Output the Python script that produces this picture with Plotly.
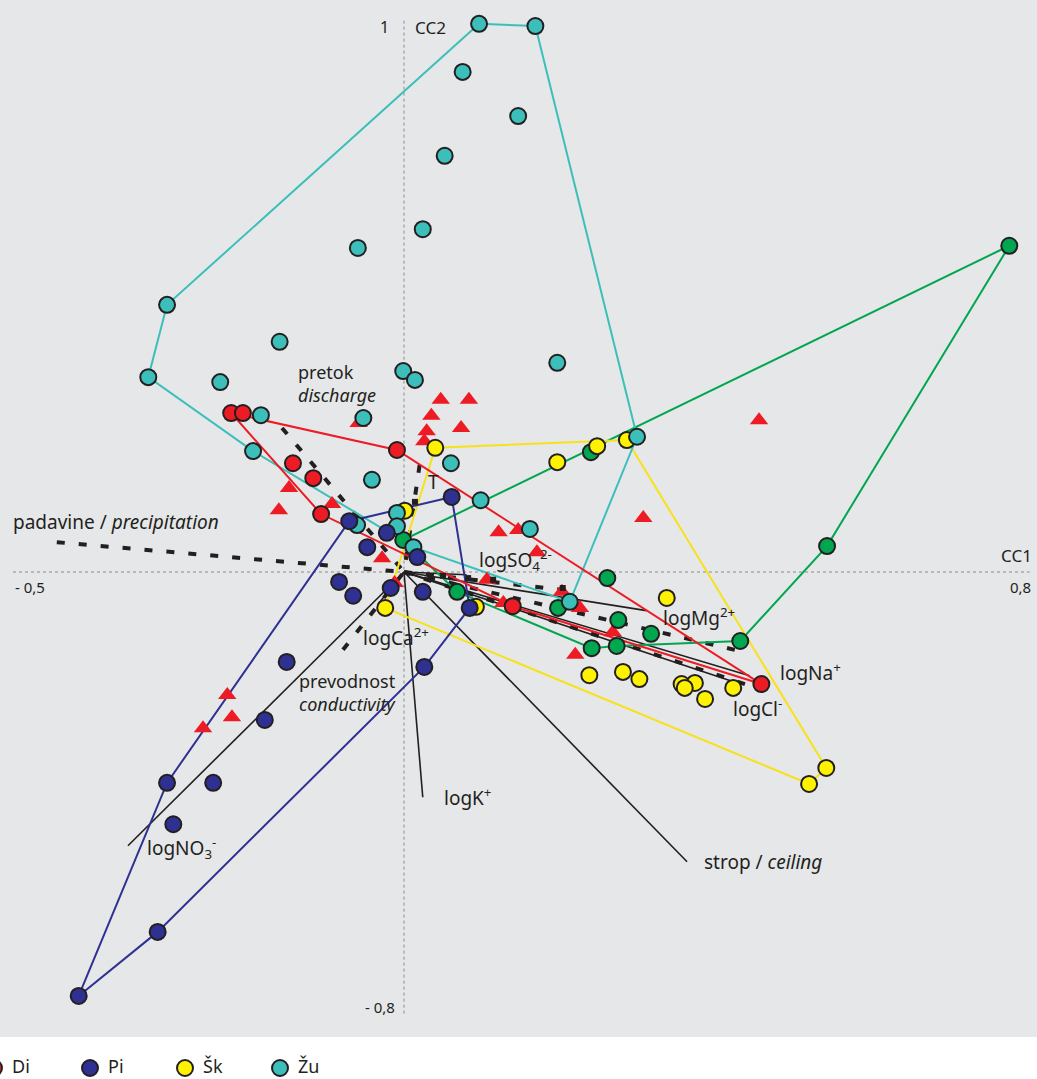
import plotly.graph_objects as go

# ---------------- data (CC1, CC2 scores) ----------------
# Di (red circles); first 5 = envelope vertices in order
di_x = [-0.221, -0.009, 0.457, 0.139, -0.106, -0.206, -0.142, -0.116]
di_y = [0.288, 0.221, -0.203, -0.062, 0.105, 0.288, 0.197, 0.170]
di_hull = [0, 1, 2, 3, 4, 0]

# Pi (dark blue circles)
pi_x = [-0.416, -0.303, -0.070, 0.061, 0.084, 0.026, -0.315, -0.083, -0.065, -0.017,
        0.024, -0.150, -0.178, -0.244, -0.295, -0.022, -0.047, 0.017]
pi_y = [-0.768, -0.382, 0.092, 0.136, -0.065, -0.172, -0.652, -0.018, -0.043, -0.029,
        -0.036, -0.163, -0.268, -0.382, -0.457, 0.071, 0.045, 0.027]
pi_hull = [0, 1, 2, 3, 4, 5, 6, 0]

# Šk (yellow circles)
sk_x = [0.040, 0.285, 0.540, 0.518, -0.024, 0.247, 0.196, 0.001, 0.092, 0.336,
        0.237, 0.280, 0.301, 0.355, 0.372, 0.359, 0.385, 0.421]
sk_y = [0.225, 0.239, -0.355, -0.384, -0.065, 0.228, 0.199, 0.111, -0.063, -0.047,
        -0.187, -0.181, -0.194, -0.203, -0.201, -0.210, -0.230, -0.210]
sk_hull = [0, 1, 2, 3, 4, 0]

# Žu (teal circles)
zu_x = [0.096, 0.168, 0.298, 0.212, 0.012, -0.193, -0.327, -0.303, 0.075, 0.146,
        0.052, 0.024, -0.059, -0.159, -0.235, -0.001, 0.014, 0.196, -0.052, -0.183,
        0.060, -0.041, 0.098, -0.009, -0.060, -0.009, 0.161]
zu_y = [0.993, 0.989, 0.245, -0.054, 0.045, 0.219, 0.353, 0.484, 0.906, 0.826,
        0.754, 0.621, 0.587, 0.417, 0.344, 0.364, 0.348, 0.379, 0.279, 0.284,
        0.197, 0.167, 0.130, 0.107, 0.085, 0.083, 0.078]
zu_hull = [0, 1, 2, 3, 4, 5, 6, 7, 0]

# green circles (group not labelled in the visible legend)
gr_x = [0.774, 0.541, 0.430, 0.272, 0.240, 0.068, -0.001, 0.239, 0.260, 0.197, 0.274, 0.316]
gr_y = [0.591, 0.047, -0.125, -0.134, -0.138, -0.036, 0.058, 0.217, -0.011, -0.065, -0.087, -0.112]
gr_hull = [0, 1, 2, 3, 4, 5, 6, 0]

# red triangles
tr_x = [0.047, 0.083, 0.035, 0.073, 0.029, 0.026, -0.058, -0.147, -0.160, -0.092,
        -0.028, 0.121, 0.146, 0.170, 0.106, 0.202, 0.225, 0.267, 0.219, 0.127,
        0.306, 0.454, -0.226, -0.220, -0.257, -0.012]
tr_y = [0.312, 0.312, 0.283, 0.261, 0.255, 0.237, 0.270, 0.152, 0.112, 0.123,
        0.025, 0.072, 0.076, 0.036, -0.014, -0.036, -0.065, -0.109, -0.150, -0.056,
        0.098, 0.275, -0.223, -0.263, -0.283, -0.020]

# small black squares
sq_x = [0.014, 0.050, 0.082, 0.114, 0.203]
sq_y = [0.127, -0.007, -0.011, -0.014, -0.029]

# environmental vectors (solid)
env_names = ["logNO3-", "logCa2+", "logK+", "strop", "logNa+", "logCl-", "logSO42-", "logMg2+"]
env_x = [-0.353, -0.033, 0.024, 0.362, 0.442, 0.430, 0.080, 0.310]
env_y = [-0.496, -0.058, -0.408, -0.525, -0.188, -0.203, -0.005, -0.070]

# supplementary vectors (dashed)
sup_names = ["padavine", "pretok", "prevodnost", "T", "s1", "s2", "s3"]
sup_x = [-0.444, -0.156, -0.078, 0.020, 0.206, 0.423, 0.436]
sup_y = [0.054, 0.261, -0.141, 0.194, -0.033, -0.141, -0.203]

legend_labels = ["Di", "Pi", "Šk", "Žu"]

# ---------------- styling ----------------
INK = "#231f20"
C_RED = "#ed1c24"
C_BLUE = "#2e3192"
C_YEL = "#fff200"
C_YEL_LINE = "#f7e21a"
C_TEAL = "#3cbfbb"
C_GREEN = "#00a650"
FONT = "Noto Sans"

fig = go.Figure()

# dashed supplementary vectors (drawn from tip to origin)
for sx, sy in zip(sup_x, sup_y):
    fig.add_trace(go.Scatter(x=[sx, 0], y=[sy, 0], mode="lines",
                             line=dict(color=INK, width=4, dash="8px,14px"),
                             hoverinfo="skip", showlegend=False))

# solid environmental vectors
for ex, ey in zip(env_x, env_y):
    fig.add_trace(go.Scatter(x=[0, ex], y=[0, ey], mode="lines",
                             line=dict(color=INK, width=1.6),
                             hoverinfo="skip", showlegend=False))

# envelopes
groups = [
    (gr_x, gr_y, gr_hull, C_GREEN, C_GREEN),
    (sk_x, sk_y, sk_hull, C_YEL_LINE, C_YEL),
    (zu_x, zu_y, zu_hull, C_TEAL, C_TEAL),
    (pi_x, pi_y, pi_hull, C_BLUE, C_BLUE),
    (di_x, di_y, di_hull, C_RED, C_RED),
]
for gx, gy, hull, lc, _ in groups:
    fig.add_trace(go.Scatter(x=[gx[i] for i in hull], y=[gy[i] for i in hull],
                             mode="lines", line=dict(color=lc, width=2),
                             hoverinfo="skip", showlegend=False))

# triangles
fig.add_trace(go.Scatter(x=tr_x, y=tr_y, mode="markers",
                         marker=dict(symbol="triangle-up", size=16, color=C_RED,
                                     line=dict(width=0)),
                         showlegend=False))

# circles
for gx, gy, hull, lc, fc in [groups[0], groups[1], groups[2], groups[4], groups[3]]:
    fig.add_trace(go.Scatter(x=gx, y=gy, mode="markers",
                             marker=dict(size=16, color=fc, line=dict(color=INK, width=2)),
                             showlegend=False))

# small squares
fig.add_trace(go.Scatter(x=sq_x, y=sq_y, mode="markers",
                         marker=dict(symbol="square", size=6, color=INK),
                         showlegend=False))

# legend strip (separate axes, pixel-like units)
leg_colors = [C_RED, C_BLUE, C_YEL, C_TEAL]
leg_px = [-6, 90, 185, 280]
fig.add_trace(go.Scatter(x=[p + 18 for p in leg_px], y=[1068] * 4, mode="text",
                         text=legend_labels, textposition="middle right",
                         textfont=dict(family=FONT, size=18, color=INK),
                         xaxis="x2", yaxis="y2", showlegend=False, cliponaxis=False))

shapes = [
    # white background for the legend strip
    dict(type="rect", xref="paper", yref="paper", x0=0, x1=1, y0=0, y1=42 / 1079,
         fillcolor="white", line=dict(width=0), layer="below"),
    # dotted axes
    dict(type="line", x0=-0.5, x1=0.8, y0=0, y1=0, xref="x", yref="y",
         line=dict(color="#8a8a8a", width=1, dash="dot"), layer="below"),
    dict(type="line", x0=0, x1=0, y0=-0.8, y1=1.0, xref="x", yref="y",
         line=dict(color="#8a8a8a", width=1, dash="dot"), layer="below"),
]
for p, c in zip(leg_px, leg_colors):
    shapes.append(dict(type="circle", xref="x2", yref="y2", x0=p - 8, x1=p + 8,
                       y0=1060, y1=1076, fillcolor=c, line=dict(color=INK, width=2),
                       layer="above"))

ann = []
def lab(text, x, y, anchor="left", size=19):
    ann.append(dict(text=text, x=x, y=y, xref="x", yref="y", xanchor=anchor,
                    yanchor="middle", showarrow=False, align="left",
                    font=dict(family=FONT, size=size, color=INK)))

lab("padavine / <i>precipitation</i>", -0.503, 0.091)
lab("pretok<br><i>discharge</i>", -0.138, 0.341, "left", 18)
lab("T", 0.038, 0.163, "center")
lab("logSO<sub>4</sub><sup>2-</sup>", 0.093, 0.022)
lab("logMg<sup>2+</sup>", 0.329, -0.082)
lab("logNa<sup>+</sup>", 0.478, -0.181)
lab("logCl<sup>-</sup>", 0.418, -0.246)
lab("logCa<sup>2+</sup>", -0.055, -0.118)
lab("prevodnost<br><i>conductivity</i>", -0.137, -0.218, "left", 18)
lab("logK<sup>+</sup>", 0.048, -0.408)
lab("logNO<sub>3</sub><sup>-</sup>", -0.331, -0.500)
lab("strop / <i>ceiling</i>", 0.381, -0.525)
lab("CC2", 0.012, 0.987, "left", 17)
lab("1", -0.017, 0.987, "right", 16)
lab("CC1", 0.805, 0.029, "right", 17)
lab("0,8", 0.804, -0.027, "right", 15)
lab("- 0,5", -0.500, -0.027, "left", 15)
lab("- 0,8", -0.009, -0.788, "right", 15)

fig.update_layout(
    width=1037, height=1079,
    margin=dict(l=0, r=0, t=0, b=0),
    paper_bgcolor="white",
    plot_bgcolor="#e6e7e8",
    showlegend=False,
    shapes=shapes,
    annotations=ann,
    xaxis=dict(range=[-404 / 782, 633 / 782], visible=False, showgrid=False, zeroline=False),
    yaxis=dict(range=[(572 - 1037) / 552, 572 / 552], domain=[42 / 1079, 1],
               visible=False, showgrid=False, zeroline=False),
    xaxis2=dict(range=[0, 1037], domain=[0, 1], anchor="y2", visible=False,
                showgrid=False, zeroline=False),
    yaxis2=dict(range=[1079, 1037], domain=[0, 42 / 1079], anchor="x2", visible=False,
                showgrid=False, zeroline=False),
)

fig.write_html("out.html")
